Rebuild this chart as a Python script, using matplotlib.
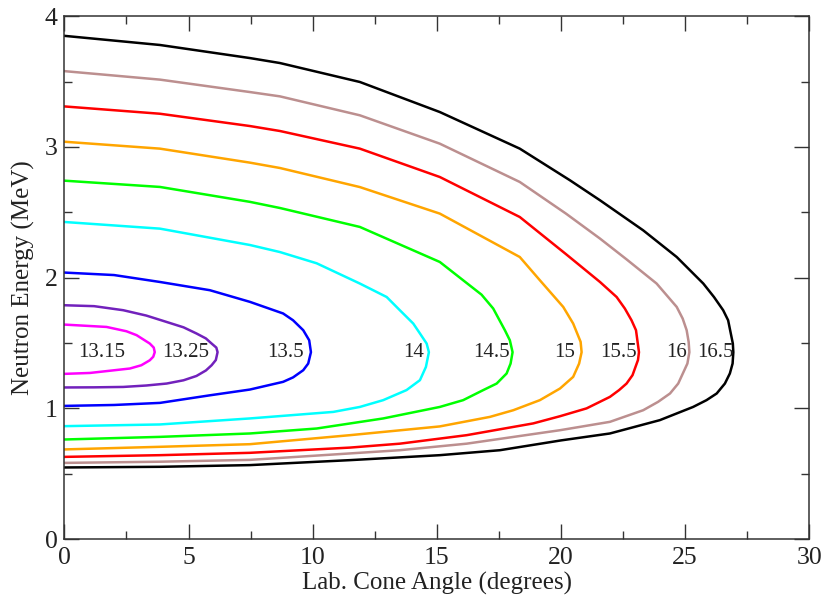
import matplotlib
matplotlib.use("Agg")
import matplotlib.pyplot as plt
from matplotlib.ticker import MultipleLocator

plt.rcParams['font.family'] = ['Liberation Serif', 'DejaVu Serif']

# beam energy labels (MeV), outer curve last
labels = ["13.15", "13.25", "13.5", "14", "14.5", "15", "15.5", "16", "16.5"]
colors = ["#ff00ff", "#7221bc", "#0000ff", "#00ffff", "#00ff00",
          "#ffa500", "#ff0000", "#bc8f8f", "#000000"]

# each curve: upper branch out to the turning point, then lower branch back to 0 deg
ang_1315 = [0, 1.70, 2.5, 2.91, 3.44, 3.6, 3.64, 3.58, 3.44, 3.1, 2.64, 1.03, 0]
en_1315 = [1.641, 1.623, 1.59, 1.56, 1.496, 1.465, 1.43, 1.395, 1.368, 1.33, 1.305, 1.271, 1.264]

ang_1325 = [0, 1.2, 2.37, 3.3, 4.12, 4.8, 5.32, 5.7, 5.93, 6.12, 6.17, 6.1, 5.93, 5.7, 5.32, 4.8, 4.12,
            3.3, 2.37, 1.2, 0]
en_1325 = [1.789, 1.782, 1.751, 1.71, 1.661, 1.62, 1.573, 1.535, 1.496, 1.465, 1.43, 1.37, 1.33, 1.29,
           1.248, 1.215, 1.19, 1.175, 1.164, 1.161, 1.16]

ang_135 = [0, 2.0, 3.85, 5.86, 7.47, 8.81, 9.21, 9.62, 9.86, 9.93, 9.82, 9.62, 9.21, 8.81, 7.47, 5.86,
           3.85, 2.0, 0]
en_135 = [2.039, 2.02, 1.967, 1.904, 1.815, 1.726, 1.674, 1.598, 1.521, 1.43, 1.343, 1.292, 1.237, 1.203,
          1.144, 1.10, 1.042, 1.026, 1.019]

ang_14 = [0, 3.85, 7.47, 8.68, 10.16, 11.90, 12.98, 13.51, 14.05, 14.32, 14.59, 14.68, 14.56, 14.32,
          13.78, 12.84, 11.90, 10.83, 7.47, 3.85, 0]
en_14 = [2.426, 2.375, 2.25, 2.196, 2.11, 1.955, 1.852, 1.751, 1.649, 1.573, 1.496, 1.43, 1.317, 1.216,
         1.14, 1.063, 1.011, 0.973, 0.923, 0.877, 0.864]

ang_145 = [0, 3.85, 7.47, 8.68, 11.90, 15.12, 16.06, 16.8, 17.27, 17.74, 17.94, 18.05, 17.97, 17.81,
           17.41, 16.87, 16.06, 15.12, 12.84, 10.16, 7.47, 3.85, 0]
en_145 = [2.742, 2.694, 2.58, 2.533, 2.388, 2.12, 1.98, 1.87, 1.764, 1.598, 1.521, 1.43, 1.343, 1.267,
          1.19, 1.14, 1.063, 1.011, 0.923, 0.846, 0.808, 0.782, 0.762]

ang_15 = [0, 3.85, 7.47, 8.68, 11.90, 15.12, 18.34, 19.15, 20.09, 20.49, 20.79, 20.83,
          20.73, 20.49, 19.96, 19.15, 18.08, 17.14, 15.12, 11.5, 7.47, 3.85, 0]
en_15 = [3.04, 2.987, 2.88, 2.839, 2.693, 2.49, 2.158, 1.98, 1.776, 1.649, 1.509, 1.43,
         1.343, 1.241, 1.152, 1.063, 0.986, 0.935, 0.862, 0.795, 0.726, 0.706, 0.686]

ang_155 = [0, 3.85, 7.47, 8.68, 11.90, 15.12, 18.34, 20.2, 21.57, 22.24, 22.57, 22.84, 23.02, 23.14,
           23.10, 22.88, 22.64, 22.34, 21.97, 21.03, 19.96, 18.88, 16.2, 13.51, 11.5, 7.47, 3.85, 0]
en_155 = [3.31, 3.254, 3.16, 3.122, 2.987, 2.77, 2.464, 2.18, 1.967, 1.852, 1.764, 1.674, 1.598, 1.43,
          1.37, 1.254, 1.19, 1.14, 1.088, 1.0, 0.94, 0.885, 0.795, 0.73, 0.70, 0.66, 0.642, 0.629]

ang_16 = [0, 3.85, 7.47, 8.68, 11.90, 15.12, 18.34, 20.2, 21.57, 22.64, 23.85, 24.66, 24.90, 25.06, 25.14,
          25.17, 25.09, 24.72, 24.39, 23.91, 23.31, 21.97, 19.96, 16.2, 13.51, 7.47, 3.85, 0]
en_16 = [3.58, 3.515, 3.42, 3.387, 3.242, 3.025, 2.732, 2.49, 2.299, 2.14, 1.955, 1.776, 1.687, 1.598,
         1.509, 1.43, 1.343, 1.19, 1.114, 1.05, 0.986, 0.897, 0.833, 0.73, 0.68, 0.606, 0.592, 0.583]

ang_165 = [0, 3.85, 7.47, 8.68, 11.90, 15.12, 18.34, 20.36, 21.57, 23.31, 24.66, 25.73, 26.16, 26.53,
           26.73, 26.92, 26.94, 26.91, 26.80, 26.60, 26.27, 25.86, 25.32, 23.98, 21.97, 20.0, 17.54,
           15.12, 11.5, 7.47, 3.85, 0]
en_165 = [3.85, 3.78, 3.68, 3.642, 3.497, 3.267, 2.987, 2.745, 2.592, 2.362, 2.158, 1.955, 1.852, 1.751,
          1.674, 1.496, 1.43, 1.343, 1.267, 1.19, 1.114, 1.063, 1.011, 0.91, 0.808, 0.755, 0.68,
          0.642, 0.604, 0.566, 0.553, 0.548]

curves = [(ang_1315, en_1315), (ang_1325, en_1325), (ang_135, en_135), (ang_14, en_14),
          (ang_145, en_145), (ang_15, en_15), (ang_155, en_155), (ang_16, en_16), (ang_165, en_165)]

# where each label sits (deg, MeV)
label_x = [1.52, 4.88, 8.92, 14.06, 17.2, 20.16, 22.3, 24.65, 26.23]
label_y = 1.43

fig = plt.figure(figsize=(8.25, 6.01), dpi=100)
ax = fig.add_axes([0.078, 0.103, 0.903, 0.870])

for (x, y), c in zip(curves, colors):
    ax.plot(x, y, color=c, lw=1.8, solid_joinstyle='round')

for lab, lx in zip(labels, label_x):
    ax.text(lx, label_y, lab, ha='center', va='center', fontsize=15, color='#222222')

ax.set_xlim(0, 30)
ax.set_ylim(0, 4)
ax.xaxis.set_major_locator(MultipleLocator(5))
ax.xaxis.set_minor_locator(MultipleLocator(2.5))
ax.yaxis.set_major_locator(MultipleLocator(1))
ax.yaxis.set_minor_locator(MultipleLocator(0.5))
ax.tick_params(which='both', direction='in', top=True, right=True, color='#333333',
               width=1.0, labelsize=18.5, labelcolor='#222222')
ax.tick_params(axis='x', which='major', length=11, pad=6)
ax.tick_params(axis='y', which='major', length=11, pad=5)
ax.tick_params(which='minor', length=6)
for s in ax.spines.values():
    s.set_color('#333333')
    s.set_linewidth(1.1)

ax.set_xlabel("Lab. Cone Angle (degrees)", fontsize=18, color='#222222', labelpad=2)
ax.set_ylabel("Neutron Energy (MeV)", fontsize=18, color='#222222', labelpad=7)

fig.savefig("out.png", dpi=100)
